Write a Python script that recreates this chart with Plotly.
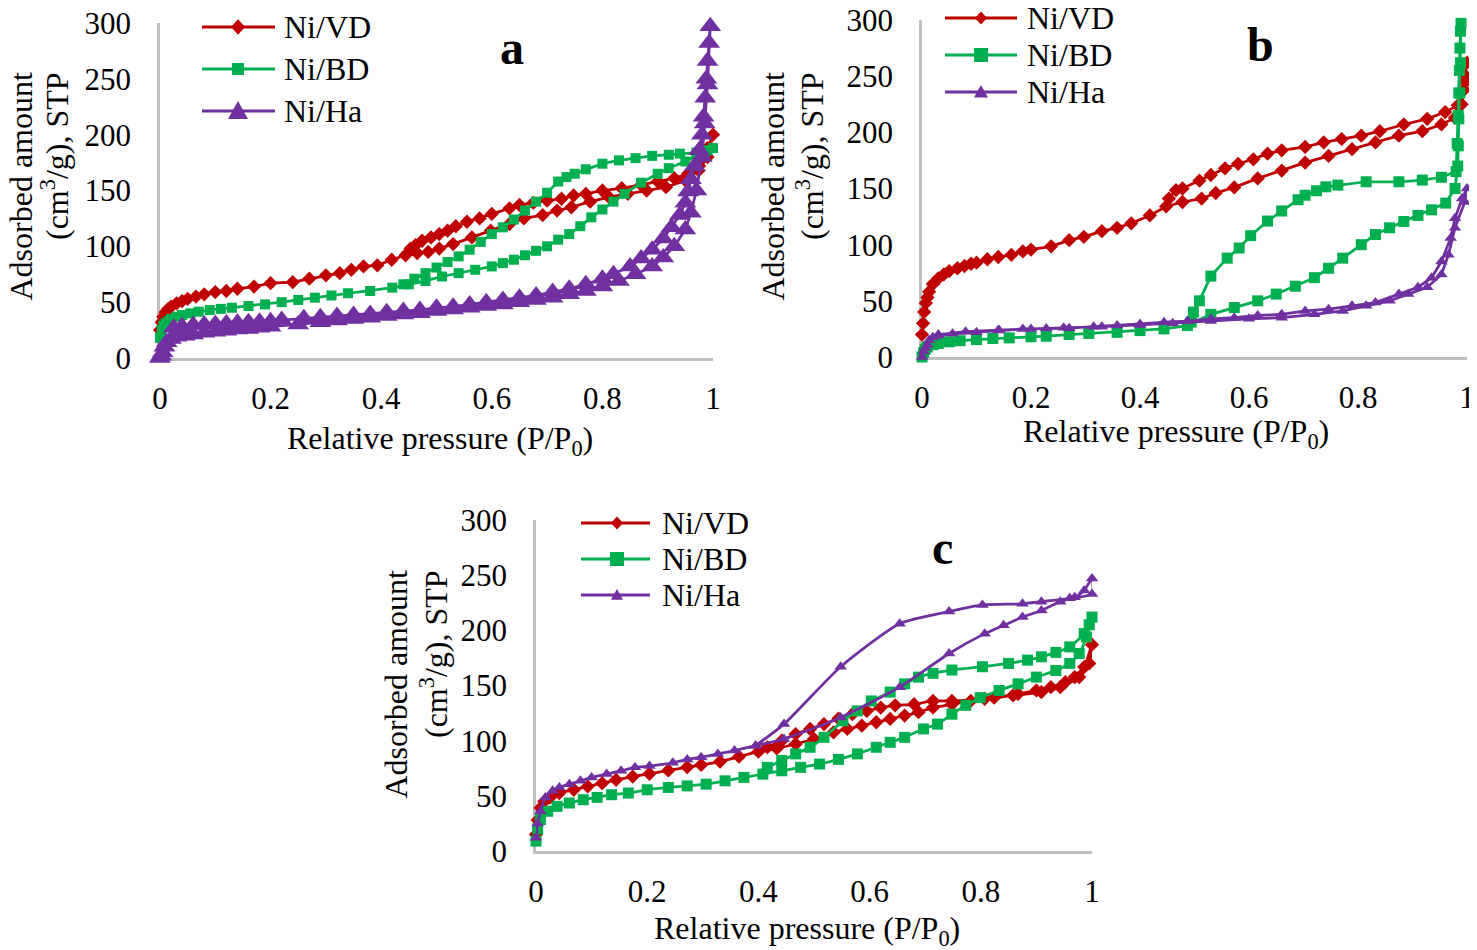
import plotly.graph_objects as go

# Isotherm loops: adsorption branch (rising P/P0) followed by desorption branch
# panel a
a_vd_x = [0.0, 0.003, 0.006, 0.01, 0.015, 0.02, 0.03, 0.04, 0.05, 0.065, 0.08, 0.1, 0.12, 0.14, 0.17,
          0.2, 0.24, 0.27, 0.3, 0.325, 0.346, 0.368, 0.393, 0.419, 0.444, 0.465, 0.485, 0.505, 0.53,
          0.564, 0.598, 0.632, 0.658, 0.692, 0.718, 0.744, 0.778, 0.812, 0.846, 0.88, 0.915, 0.95,
          0.974, 0.99, 1.0,
          0.99, 0.975, 0.955, 0.93, 0.9, 0.87, 0.835, 0.8, 0.77, 0.748, 0.726, 0.7, 0.675, 0.65, 0.632,
          0.6, 0.578, 0.555, 0.535, 0.52, 0.505, 0.49, 0.474, 0.462, 0.453]
a_vd_y = [25, 32, 37, 41, 44, 46, 49, 51, 53, 55, 57, 59, 60, 62, 64,
          67, 68, 71, 74, 76, 79, 82, 83, 88, 92, 94, 95, 98, 102,
          108, 114, 120, 125, 128, 132, 135, 140, 144, 147, 150, 153, 159,
          168, 180, 200,
          188, 172, 165, 161, 158, 155, 152, 150, 147, 145.6, 142.6, 141, 139, 137, 134,
          129, 125, 122, 118, 114, 111, 108, 105, 101, 98]

a_bd_x = [0.0, 0.003, 0.006, 0.01, 0.015, 0.02, 0.03, 0.04, 0.055, 0.07, 0.09, 0.11, 0.13, 0.16, 0.19,
          0.22, 0.25, 0.28, 0.31, 0.34, 0.38, 0.42, 0.45, 0.48, 0.51, 0.54, 0.57, 0.6, 0.62, 0.64,
          0.66, 0.68, 0.7, 0.72, 0.74, 0.76, 0.78, 0.8, 0.82, 0.84, 0.87, 0.9, 0.92, 0.95, 0.97,
          0.985, 1.0,
          0.99, 0.97, 0.94, 0.92, 0.89, 0.86, 0.83, 0.8, 0.77, 0.75, 0.735, 0.72, 0.7, 0.68, 0.66,
          0.64, 0.62, 0.6, 0.58, 0.56, 0.54, 0.52, 0.5, 0.48, 0.46, 0.44]
a_bd_y = [18, 25, 29, 31, 33, 35, 37, 38.5, 40, 41.5, 43, 44, 45, 46.5, 48,
          50, 52, 54, 56, 58, 60, 63, 66, 69, 73, 76, 79, 82, 85, 88,
          92, 96, 100, 106, 111, 118, 126, 133, 140, 147, 157, 165, 170, 176, 181,
          184, 188,
          186, 184, 183, 182, 181, 179, 177, 174, 169, 165, 162, 158, 148, 140, 132,
          124, 117, 111, 104, 97, 91, 86, 81, 76, 71, 66]

a_ha_x = [0.0, 0.002, 0.005, 0.008, 0.012, 0.02, 0.03, 0.045, 0.06, 0.08, 0.1, 0.12, 0.14, 0.16, 0.18,
          0.2, 0.25, 0.29, 0.32, 0.35, 0.38, 0.41, 0.44, 0.47, 0.5, 0.53, 0.56, 0.59, 0.62, 0.65,
          0.68, 0.71, 0.74, 0.77, 0.8, 0.83, 0.86, 0.89, 0.91, 0.93, 0.95, 0.96, 0.97, 0.98, 0.985,
          0.99, 0.995,
          0.993, 0.99, 0.988, 0.986, 0.983, 0.98, 0.975, 0.967, 0.96, 0.955, 0.95, 0.94, 0.925, 0.91,
          0.89, 0.87, 0.85, 0.82, 0.8, 0.77, 0.74, 0.71, 0.68, 0.65, 0.62, 0.59, 0.56, 0.53, 0.5,
          0.47, 0.44, 0.41, 0.38, 0.35, 0.32, 0.29, 0.26, 0.22, 0.2, 0.18, 0.16, 0.14, 0.12, 0.1,
          0.08, 0.06, 0.04, 0.025]
a_ha_y = [0, 2, 5, 10, 14, 17, 19, 20, 21, 22.5, 23.5, 24.5, 25.5, 26, 27,
          28, 30, 32, 33.5, 35, 36, 37.5, 39, 40, 42, 43.5, 45, 46.5, 48, 50,
          52, 54, 57, 60, 64, 69, 75, 82, 90, 100, 115, 130, 150, 180, 210,
          245, 297,
          282, 266, 250, 233, 216, 200, 186, 172, 160, 149, 139, 128, 117, 107,
          97, 89, 82, 75, 71, 66, 62, 59, 56, 54, 52, 50, 48, 46, 45,
          43, 42, 41, 39.5, 38.5, 37.5, 36.5, 35.5, 34, 33, 32.5, 32, 31.5, 31, 30.5,
          30, 29.5, 28.5, 27]

# panel b
b_vd_x = [0.0, 0.002, 0.004, 0.007, 0.01, 0.013, 0.02, 0.03, 0.04, 0.05, 0.065, 0.078, 0.09, 0.1, 0.12,
          0.14, 0.164, 0.185, 0.2, 0.237, 0.27, 0.297, 0.33, 0.358, 0.384, 0.418, 0.448, 0.478, 0.513,
          0.539, 0.573, 0.616, 0.66, 0.703, 0.746, 0.789, 0.832, 0.875, 0.918, 0.953, 0.978, 0.99,
          0.997, 1.0,
          0.998, 0.995, 0.983, 0.96, 0.927, 0.884, 0.84, 0.806, 0.77, 0.737, 0.703, 0.66, 0.634, 0.608,
          0.58, 0.556, 0.53, 0.509, 0.478, 0.466, 0.453]
b_vd_y = [20, 30, 40, 48, 53, 58, 65, 70, 73.5, 76.5, 79, 81, 83, 84, 87,
          89, 91, 94, 95.6, 98.5, 104, 107, 112, 115, 119, 126, 134, 138, 141,
          146, 151, 159, 166, 173, 179, 185, 191, 197, 201, 207, 213, 225,
          245, 262,
          250, 238, 224, 218, 212, 207, 201, 197, 194, 191, 187, 184, 181, 176,
          172, 168, 162, 157, 150, 148.5, 141]

b_bd_x = [0.0, 0.003, 0.006, 0.01, 0.02, 0.03, 0.05, 0.07, 0.1, 0.13, 0.16, 0.2, 0.228, 0.27, 0.306,
          0.358, 0.4, 0.444, 0.487, 0.53, 0.573, 0.616, 0.65, 0.685, 0.72, 0.746, 0.772, 0.806, 0.832,
          0.858, 0.884, 0.91, 0.935, 0.961, 0.978, 0.983, 0.984, 0.985, 0.987, 0.988, 0.989,
          0.988, 0.987, 0.986, 0.985, 0.984, 0.982, 0.98, 0.953, 0.918, 0.875, 0.815, 0.763, 0.741,
          0.724, 0.703, 0.69, 0.66, 0.634, 0.603, 0.582, 0.56, 0.53, 0.509, 0.498, 0.494]
b_bd_y = [0, 4, 7, 9, 11, 12, 13.5, 14.5, 15.5, 16.5, 17, 18, 18.5, 20, 21,
          22, 23.5, 25, 28, 38, 44, 50, 56, 63, 70.6, 79, 88, 100, 109,
          115, 120.6, 126, 131, 137, 150, 170, 188, 212, 235, 262, 297,
          290, 275, 255, 235, 215, 190, 165, 160, 157.5, 156, 156, 153, 151.5,
          148, 144, 140, 130, 121, 108, 97, 88, 72, 50, 40, 31]

b_ha_x = [0.0, 0.003, 0.006, 0.01, 0.013, 0.02, 0.03, 0.056, 0.1, 0.142, 0.185, 0.228, 0.27, 0.315, 0.358,
          0.4, 0.444, 0.487, 0.53, 0.573, 0.616, 0.66, 0.703, 0.746, 0.789, 0.832, 0.875, 0.91, 0.935,
          0.953, 0.97, 0.978, 0.991, 1.0,
          0.996, 0.978, 0.966, 0.953, 0.927, 0.892, 0.858, 0.815, 0.772, 0.72, 0.66, 0.6, 0.53, 0.46,
          0.4, 0.33, 0.26, 0.2, 0.14, 0.08, 0.03]
b_ha_y = [0, 5, 8, 11, 15, 17.5, 19, 20.6, 22, 23.5, 25, 25.3, 25.6, 27, 28,
          29.4, 31, 32, 34, 35, 37, 38, 41, 42.6, 45.6, 48.5, 56, 62, 70.6,
          85, 106, 123.5, 141, 150,
          138, 115, 91, 73.5, 62, 56, 50, 45.6, 41, 38, 35, 34, 32, 30,
          28.5, 27, 26, 25, 24, 22.5, 20]

# panel c
c_vd_x = [0.0, 0.003, 0.008, 0.015, 0.025, 0.042, 0.068, 0.093, 0.119, 0.144, 0.174, 0.204, 0.238, 0.272,
          0.297, 0.331, 0.365, 0.4, 0.433, 0.467, 0.5, 0.535, 0.56, 0.586, 0.612, 0.637, 0.663, 0.688,
          0.714, 0.748, 0.782, 0.824, 0.867, 0.9, 0.926, 0.952, 0.969, 0.986, 1.0,
          0.995, 0.977, 0.943, 0.909, 0.858, 0.807, 0.748, 0.714, 0.68, 0.646, 0.62, 0.595, 0.569,
          0.544, 0.518, 0.493, 0.467, 0.442, 0.416]
c_vd_y = [15, 28, 39, 45, 48.5, 52.5, 55.5, 58.5, 61.5, 64.5, 67.5, 70, 73, 76,
          78, 81, 85.5, 90, 93, 97, 101.5, 107.5, 110.6, 113.6, 116.7, 119.7, 122.7, 125.8,
          130, 133, 136, 139, 142.4, 145.5, 148.5, 153, 157.6, 166.7, 187,
          170, 157.6, 148.5, 144, 141, 138, 136, 136, 133, 132, 130, 127, 124,
          120, 115, 110.6, 106, 100, 94]

c_bd_x = [0.0, 0.003, 0.008, 0.021, 0.038, 0.06, 0.085, 0.11, 0.136, 0.166, 0.2, 0.238, 0.272, 0.306,
          0.34, 0.374, 0.408, 0.442, 0.476, 0.51, 0.544, 0.578, 0.612, 0.637, 0.663, 0.697, 0.722,
          0.748, 0.773, 0.799, 0.833, 0.867, 0.9, 0.935, 0.96, 0.977, 0.99, 1.0,
          0.995, 0.986, 0.96, 0.935, 0.909, 0.884, 0.85, 0.803, 0.748, 0.714, 0.688, 0.663, 0.637,
          0.603, 0.578, 0.552, 0.518, 0.493, 0.467, 0.442, 0.416]
c_bd_y = [9, 20, 28.5, 36, 40.5, 43.5, 46.5, 48.6, 51, 52.5, 55.5, 57.6, 59, 60.6,
          63.6, 66.7, 69.7, 72.7, 75.8, 78.8, 83, 88, 94, 98.5, 103, 110.6, 115,
          124, 132, 139, 145.5, 151.5, 157.6, 163.6, 170, 179, 194, 212,
          205, 197, 185, 180, 176, 173, 170, 167, 164, 161, 157.6, 151.5, 144,
          136, 127, 118, 103, 94, 88, 82, 75.8]

c_ha_x = [0.0, 0.003, 0.008, 0.017, 0.03, 0.042, 0.06, 0.08, 0.1, 0.127, 0.153, 0.178, 0.204, 0.246,
          0.272, 0.297, 0.327, 0.357, 0.395, 0.446, 0.548, 0.654, 0.743, 0.807, 0.841, 0.875, 0.909,
          0.943, 0.969, 0.986, 1.0,
          1.0, 0.96, 0.909, 0.875, 0.803, 0.743, 0.654, 0.548, 0.446, 0.395]
c_ha_y = [12, 25, 36, 48.5, 54.5, 57.6, 60.6, 63.6, 66.7, 69.7, 72.7, 75.8, 77, 80,
          83, 85, 88, 91, 95.5, 101.5, 121, 148.5, 179, 197, 204.5, 212, 218,
          226, 230, 236, 247,
          233, 229, 226, 224, 223, 217, 206, 167, 115, 95.5]

series_names = ["Ni/VD", "Ni/BD", "Ni/Ha"]
x_ticks = [0, 0.2, 0.4, 0.6, 0.8, 1]
x_ticktext = ["0", "0.2", "0.4", "0.6", "0.8", "1"]
y_ticks = [0, 50, 100, 150, 200, 250, 300]

# the page body keeps its default 8px margin, so the figure is laid out in
# screen pixels shifted by OFF
OFF = 8
W, H = 1477 - OFF, 950 - OFF
FONT = "Liberation Serif"
COLORS = ["#c00000", "#00b050", "#7030a0"]
SYMBOLS = ["diamond", "square", "triangle-up"]
AXIS_GREY = "#bfbfbf"


def fx(px):
    return (px - OFF) / W


def fy(py):
    return 1 - (py - OFF) / H


def key_marker(kind, cx, cy, s, color):
    # legend key glyph as a paper-space path, s = half width in px
    if kind == "diamond":
        pts = [(cx, cy - s * 1.1), (cx + s, cy), (cx, cy + s * 1.1), (cx - s, cy)]
    elif kind == "square":
        pts = [(cx - s, cy - s), (cx + s, cy - s), (cx + s, cy + s), (cx - s, cy + s)]
    else:
        pts = [(cx, cy - s * 1.0), (cx + s, cy + s * 0.8), (cx - s, cy + s * 0.8)]
    path = "M " + " L ".join("%.5f,%.5f" % (fx(x), fy(y)) for x, y in pts) + " Z"
    return dict(type="path", xref="paper", yref="paper", path=path,
                fillcolor=color, line=dict(width=0))


# pixel boxes (screen px): x0, x1, y_bottom, y_top
panels = [
    dict(letter="a", box=(160, 713, 358, 23),
         data=[(a_vd_x, a_vd_y), (a_bd_x, a_bd_y), (a_ha_x, a_ha_y)],
         sizes=[11, 10, 19], shape="linear",
         key=(202, 275, 238, [27, 69, 111], 282, [7, 6, 10]), letter_at=(512, 48),
         xtitle_at=(440, 440), ytitle=(20, 55, 70)),
    dict(letter="b", box=(922, 1467, 357, 20),
         data=[(b_vd_x, b_vd_y), (b_bd_x, b_bd_y), (b_ha_x, b_ha_y)],
         sizes=[11, 11, 11], shape="linear",
         key=(945, 1017, 981, [18, 55, 92], 1025, [6, 7, 7]), letter_at=(1260, 45),
         xtitle_at=(1176, 433), ytitle=(772, 810, 70)),
    dict(letter="c", box=(536, 1092, 851, 520),
         data=[(c_vd_x, c_vd_y), (c_bd_x, c_bd_y), (c_ha_x, c_ha_y)],
         sizes=[11, 11, 11], shape="spline",
         key=(581, 650, 617, [523, 559, 595], 660, [6, 7, 6]), letter_at=(942, 547),
         xtitle_at=(807, 930), ytitle=(395, 434, 568)),
]

fig = go.Figure()
annotations = []
shapes = []
layout = {}

for i, p in enumerate(panels):
    n = "" if i == 0 else str(i + 1)
    x0, x1, yb, yt = p["box"]
    for k, (xs, ys) in enumerate(p["data"]):
        fig.add_trace(go.Scatter(
            x=xs, y=ys, name=series_names[k], mode="lines+markers", showlegend=False,
            xaxis="x" + n, yaxis="y" + n, cliponaxis=False,
            line=dict(color=COLORS[k], width=2.75, shape=p["shape"], smoothing=0.6),
            marker=dict(symbol=SYMBOLS[k], size=p["sizes"][k], color=COLORS[k], line=dict(width=0)),
        ))

    axis_common = dict(showline=True, linecolor=AXIS_GREY, linewidth=2.5, showgrid=False,
                       zeroline=False, ticks="", layer="below traces", automargin=False,
                       ticklabeloverflow="allow",
                       tickfont=dict(family=FONT, size=31, color="black"))
    layout["xaxis" + n] = dict(axis_common, domain=[fx(x0), fx(x1)], range=[0, 1],
                               tickvals=x_ticks, ticktext=x_ticktext, ticklabelstandoff=11,
                               anchor="y" + n)
    layout["yaxis" + n] = dict(axis_common, domain=[fy(yb), fy(yt)], range=[0, 300],
                               tickvals=y_ticks, ticklabelstandoff=20, anchor="x" + n)

    # legend drawn as keys + labels
    lx0, lx1, mx, rows, tx, half = p["key"]
    for k, ry in enumerate(rows):
        shapes.append(dict(type="line", xref="paper", yref="paper", x0=fx(lx0), x1=fx(lx1),
                           y0=fy(ry), y1=fy(ry), line=dict(color=COLORS[k], width=3)))
        shapes.append(key_marker(SYMBOLS[k], mx, ry, half[k], COLORS[k]))
        annotations.append(dict(text=series_names[k], x=fx(tx), y=fy(ry), xref="paper",
                                yref="paper", showarrow=False, xanchor="left", yanchor="middle",
                                font=dict(family=FONT, size=32, color="black")))

    lx, ly = p["letter_at"]
    annotations.append(dict(text="<b>%s</b>" % p["letter"], x=fx(lx), y=fy(ly), xref="paper",
                            yref="paper", showarrow=False, xanchor="center", yanchor="middle",
                            font=dict(family=FONT, size=48, color="black")))
    tx2, ty2 = p["xtitle_at"]
    annotations.append(dict(text="Relative pressure (P/P<sub>0</sub>)", x=fx(tx2), y=fy(ty2),
                            xref="paper", yref="paper", showarrow=False, xanchor="center",
                            yanchor="middle", font=dict(family=FONT, size=32, color="black")))
    c1, c2, top = p["ytitle"]
    for cx, txt in [(c1, "Adsorbed amount"), (c2, "(cm<sup>3</sup>/g), STP")]:
        annotations.append(dict(text=txt, x=fx(cx), y=fy(top), xref="paper", yref="paper",
                                showarrow=False, textangle=-90, xanchor="center", yanchor="top",
                                font=dict(family=FONT, size=32, color="black")))

fig.update_layout(
    width=W, height=H, margin=dict(l=0, r=0, t=0, b=0),
    paper_bgcolor="white", plot_bgcolor="white", showlegend=False,
    annotations=annotations, shapes=shapes, **layout,
)

fig.write_html("out.html")
